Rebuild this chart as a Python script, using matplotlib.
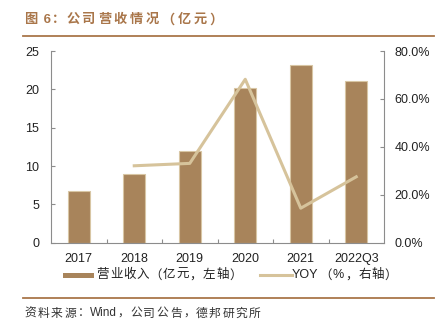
import matplotlib
matplotlib.use("Agg")
import matplotlib.pyplot as plt
from matplotlib.lines import Line2D
from matplotlib.patches import Rectangle
import numpy as np

plt.rcParams['font.family'] = ['Liberation Sans', 'Noto Sans CJK SC', 'DejaVu Sans']

categories = ['2017', '2018', '2019', '2020', '2021', '2022Q3']
revenue = [6.8, 9.0, 12.0, 20.2, 23.2, 21.1]
yoy_years = ['2018', '2019', '2020', '2021', '2022Q3']
yoy = [32.1, 33.1, 68.2, 14.4, 27.5]
left_ticks = [0, 5, 10, 15, 20, 25]
right_ticks = [0, 20, 40, 60, 80]

title = '图 6：公司营收情况（亿元）'
source = '资料来源：Wind，公司公告，德邦研究所'
legend_labels = ['营业收入（亿元，左轴）', 'YOY（%，右轴）']

bar_color = '#A8845B'
bar_edge = '#D8C6A4'
line_color = '#D6C39B'
brown = '#A9764A'
spine_c = '#8C8C8C'
text_c = '#222222'

W, H = 444, 329
fig = plt.figure(figsize=(W / 100, H / 100), dpi=100)
renderer = fig.canvas.get_renderer()


def split_runs(s):
    runs = []
    for ch in s:
        wide = ord(ch) >= 0x2E80
        if not wide and runs and not runs[-1][1]:
            runs[-1][0] += ch
        else:
            runs.append([ch, wide])
    return runs


def spaced_text(x_px, y_px, s, size, cjk_adv, adv=None, **kw):
    adv = adv or {}
    x = x_px
    for run, wide in split_runs(s):
        t = fig.text(x / W, 1 - y_px / H, run, fontsize=size, va='center', ha='left', **kw)
        w = t.get_window_extent(renderer).width
        if run in adv:
            x += max(adv[run], w + 0.5)
        elif wide:
            x += max(cjk_adv, w + 0.5)
        else:
            x += w + 1.0
    return x


ax = fig.add_axes([51 / W, (H - 242.7) / H, (384 - 51) / W, (242.7 - 51) / H])
ax2 = ax.twinx()

x = np.arange(len(categories))
ax.bar(x, revenue, width=0.4, color=bar_color, edgecolor=bar_edge, linewidth=0.8, zorder=2)
xy = [categories.index(c) for c in yoy_years]
ax2.plot(xy, yoy, color=line_color, linewidth=2.2, zorder=3)

ax.set_xlim(-0.5, len(categories) - 0.5)
ax.set_ylim(0, 25)
ax2.set_ylim(0, 80)
ax.set_yticks(left_ticks)
ax.set_yticklabels([str(t) for t in left_ticks])
ax2.set_yticks(right_ticks)
ax2.set_yticklabels([f'{t:.1f}%' for t in right_ticks])
ax.set_xticks(x)
ax.set_xticklabels(categories)
ax.set_xticks(np.arange(0.5, len(categories) - 1, 1.0), minor=True)

for a in (ax, ax2):
    a.spines['top'].set_visible(False)
    for s in ('left', 'right', 'bottom'):
        a.spines[s].set_color(spine_c)
        a.spines[s].set_linewidth(0.8)
ax.spines['right'].set_visible(False)
ax2.spines['left'].set_visible(False)
ax2.spines['bottom'].set_visible(False)

ax.tick_params(axis='x', which='major', length=0, pad=7.5, labelsize=9, colors=text_c)
ax.tick_params(axis='x', which='minor', direction='in', length=3, color=spine_c, width=0.8)
ax.tick_params(axis='y', direction='in', length=3, color=spine_c, width=0.8, pad=8.4, labelsize=9, labelcolor=text_c)
ax2.tick_params(axis='y', direction='in', length=3, color=spine_c, width=0.8, pad=7.4, labelsize=9, labelcolor=text_c)

# Title and rules
spaced_text(24.5, 20, title, 9.5, 15.9, adv={'：': 12.0}, fontweight='bold', color=brown)
fig.add_artist(Line2D([22.7 / W, 434 / W], [1 - 35.5 / H] * 2, color=brown, linewidth=1.3))
fig.add_artist(Line2D([22.7 / W, 434 / W], [1 - 297.5 / H] * 2, color=brown, linewidth=1.3))
spaced_text(24.5, 313.5, source, 8.5, 13.3, adv={'：': 6.0, '，': 6.0}, color='#333333')

# Legend (manual layout)
ly = 275.3
fig.add_artist(Rectangle((63 / W, 1 - 277.8 / H), 31 / W, 5 / H, transform=fig.transFigure,
                         facecolor=bar_color, edgecolor='none'))
spaced_text(96.5, ly, legend_labels[0], 9, 13.3, color=text_c)
fig.add_artist(Line2D([260 / W, 291.7 / W], [1 - ly / H] * 2, color=line_color, linewidth=2.2))
spaced_text(292, ly, legend_labels[1], 9, 13.3, color=text_c)

fig.savefig('out.png', dpi=100)
